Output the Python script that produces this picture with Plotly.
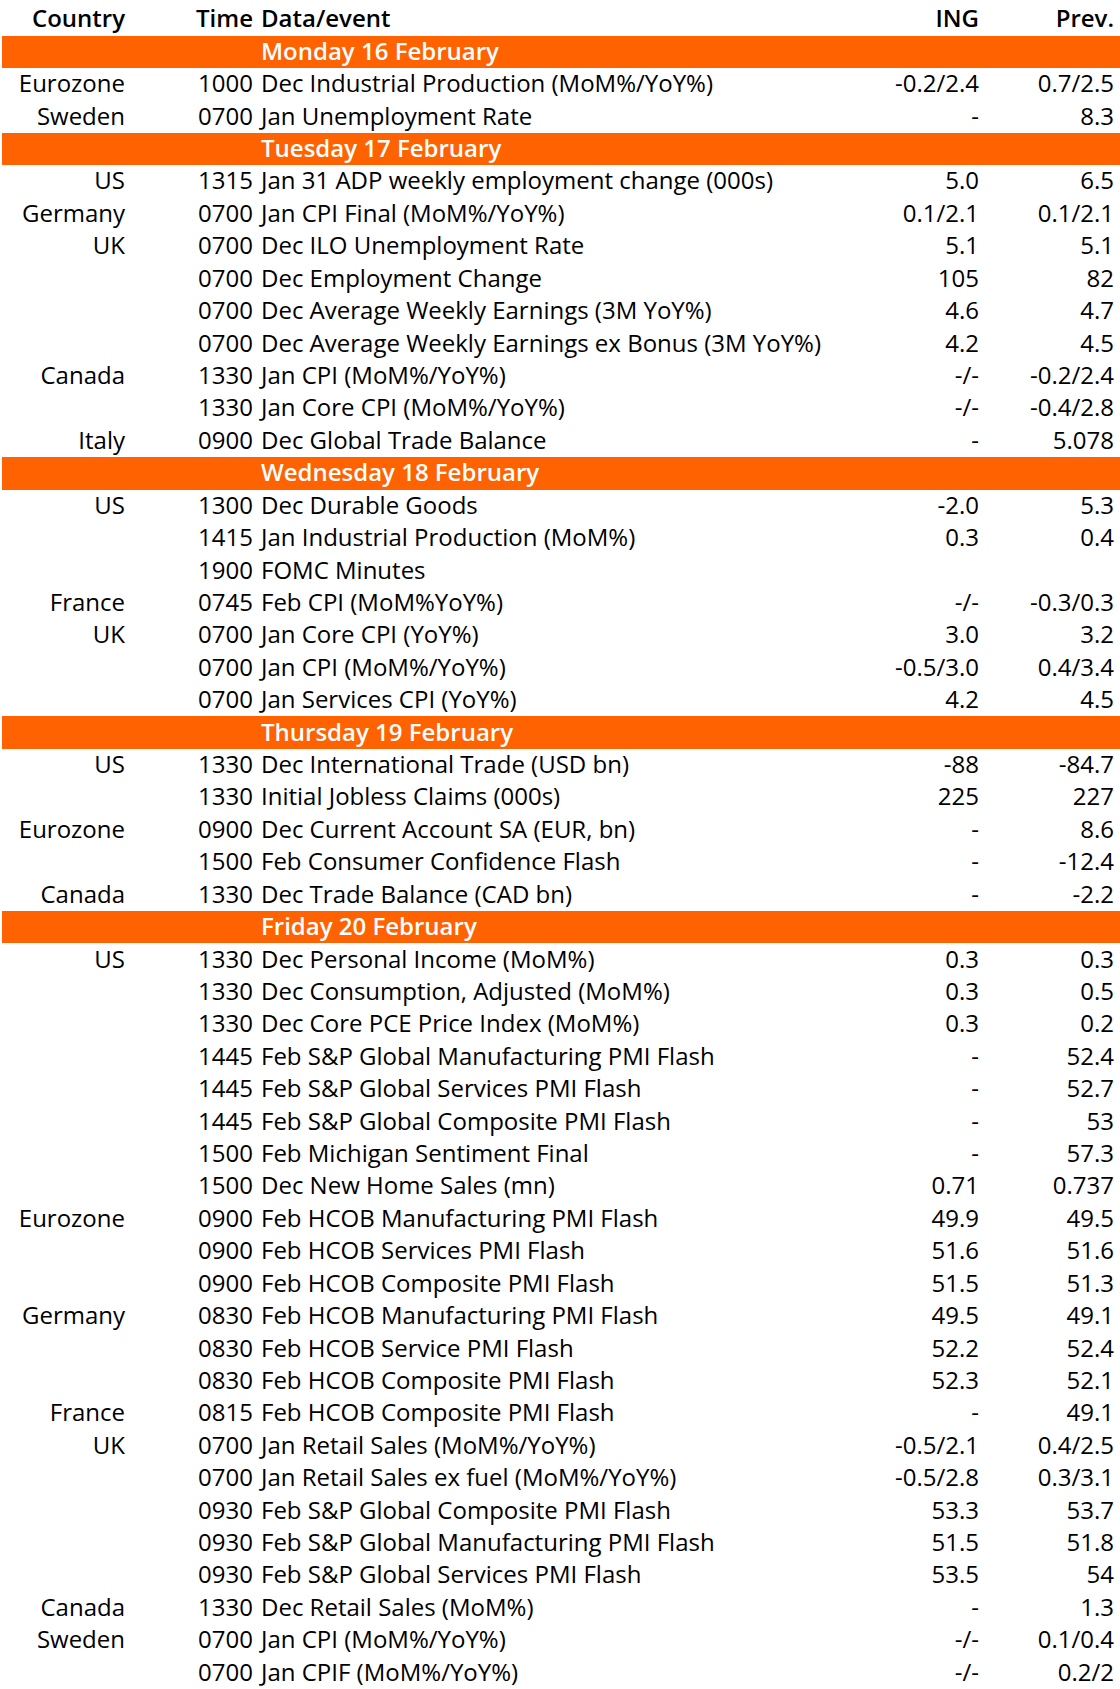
import plotly.graph_objects as go

# week ahead calendar: day rows have no time
country = ["", "Eurozone", "Sweden",
           "", "US", "Germany", "UK", "", "", "", "Canada", "", "Italy",
           "", "US", "", "", "France", "UK", "", "",
           "", "US", "", "Eurozone", "", "Canada",
           "", "US", "", "", "", "", "", "", "", "Eurozone", "", "", "Germany", "", "",
           "France", "UK", "", "", "", "", "Canada", "Sweden", ""]
time = ["", "1000", "0700",
        "", "1315", "0700", "0700", "0700", "0700", "0700", "1330", "1330", "0900",
        "", "1300", "1415", "1900", "0745", "0700", "0700", "0700",
        "", "1330", "1330", "0900", "1500", "1330",
        "", "1330", "1330", "1330", "1445", "1445", "1445", "1500", "1500", "0900", "0900", "0900",
        "0830", "0830", "0830", "0815", "0700", "0700", "0930", "0930", "0930", "1330", "0700", "0700"]
event = ["Monday 16 February",
         "Dec Industrial Production (MoM%/YoY%)",
         "Jan Unemployment Rate",
         "Tuesday 17 February",
         "Jan 31 ADP weekly employment change (000s)",
         "Jan CPI Final (MoM%/YoY%)",
         "Dec ILO Unemployment Rate",
         "Dec Employment Change",
         "Dec Average Weekly Earnings (3M YoY%)",
         "Dec Average Weekly Earnings ex Bonus (3M YoY%)",
         "Jan CPI (MoM%/YoY%)",
         "Jan Core CPI (MoM%/YoY%)",
         "Dec Global Trade Balance",
         "Wednesday 18 February",
         "Dec Durable Goods",
         "Jan Industrial Production (MoM%)",
         "FOMC Minutes",
         "Feb CPI (MoM%YoY%)",
         "Jan Core CPI (YoY%)",
         "Jan CPI (MoM%/YoY%)",
         "Jan Services CPI (YoY%)",
         "Thursday 19 February",
         "Dec International Trade (USD bn)",
         "Initial Jobless Claims (000s)",
         "Dec Current Account SA (EUR, bn)",
         "Feb Consumer Confidence Flash",
         "Dec Trade Balance (CAD bn)",
         "Friday 20 February",
         "Dec Personal Income (MoM%)",
         "Dec Consumption, Adjusted (MoM%)",
         "Dec Core PCE Price Index (MoM%)",
         "Feb S&P Global Manufacturing PMI Flash",
         "Feb S&P Global Services PMI Flash",
         "Feb S&P Global Composite PMI Flash",
         "Feb Michigan Sentiment Final",
         "Dec New Home Sales (mn)",
         "Feb HCOB Manufacturing PMI Flash",
         "Feb HCOB Services PMI Flash",
         "Feb HCOB Composite PMI Flash",
         "Feb HCOB Manufacturing PMI Flash",
         "Feb HCOB Service PMI Flash",
         "Feb HCOB Composite PMI Flash",
         "Feb HCOB Composite PMI Flash",
         "Jan Retail Sales (MoM%/YoY%)",
         "Jan Retail Sales ex fuel (MoM%/YoY%)",
         "Feb S&P Global Composite PMI Flash",
         "Feb S&P Global Manufacturing PMI Flash",
         "Feb S&P Global Services PMI Flash",
         "Dec Retail Sales (MoM%)",
         "Jan CPI (MoM%/YoY%)",
         "Jan CPIF (MoM%/YoY%)"]
ing = ["", "-0.2/2.4", "-",
       "", "5.0", "0.1/2.1", "5.1", "105", "4.6", "4.2", "-/-", "-/-", "-",
       "", "-2.0", "0.3", "", "-/-", "3.0", "-0.5/3.0", "4.2",
       "", "-88", "225", "-", "-", "-",
       "", "0.3", "0.3", "0.3", "-", "-", "-", "-", "0.71", "49.9", "51.6", "51.5",
       "49.5", "52.2", "52.3", "-", "-0.5/2.1", "-0.5/2.8", "53.3", "51.5", "53.5", "-", "-/-", "-/-"]
prev = ["", "0.7/2.5", "8.3",
        "", "6.5", "0.1/2.1", "5.1", "82", "4.7", "4.5", "-0.2/2.4", "-0.4/2.8", "5.078",
        "", "5.3", "0.4", "", "-0.3/0.3", "3.2", "0.4/3.4", "4.5",
        "", "-84.7", "227", "8.6", "-12.4", "-2.2",
        "", "0.3", "0.5", "0.2", "52.4", "52.7", "53", "57.3", "0.737", "49.5", "51.6", "51.3",
        "49.1", "52.4", "52.1", "49.1", "0.4/2.5", "0.3/3.1", "53.7", "51.8", "54", "1.3", "0.1/0.4", "0.2/2"]
headers = ["Country", "Time", "Data/event", "ING", "Prev."]

ORANGE = "#FF6200"
FONT = "Open Sans"
FS = 24
W = 1120
DY = 0.06  # nudge text a bit lower inside its row
# column anchors (x in px), text side
cols = [(125, "middle left"), (253, "middle left"), (261, "middle right"),
        (979, "middle left"), (1114, "middle left")]

rows = list(range(1, len(event) + 1))  # row 0 is the header
is_day = [t == "" and e.split(" ")[0].endswith("day") for t, e in zip(time, event)]
day_rows = [r for r, d in zip(rows, is_day) if d]
day_text = [e for e, d in zip(event, is_day) if d]

fig = go.Figure()

# orange day bands
fig.add_trace(go.Bar(y=day_rows, x=[W] * len(day_rows), base=2, orientation="h",
                     width=1, marker=dict(color=ORANGE, line_width=0),
                     hoverinfo="skip", showlegend=False))

# header
for (xpos, pos), h in zip(cols, headers):
    fig.add_trace(go.Scatter(x=[xpos], y=[DY], mode="text", text=[h], textposition=pos,
                             textfont=dict(family=FONT, size=FS, color="black", weight=600),
                             hoverinfo="skip", showlegend=False))

# body columns (day rows left empty here)
for (xpos, pos), vals in zip(cols, [country, time, event, ing, prev]):
    txt = ["" if d else v for v, d in zip(vals, is_day)]
    fig.add_trace(go.Scatter(x=[xpos] * len(rows), y=[r + DY for r in rows], mode="text",
                             text=txt, textposition=pos,
                             textfont=dict(family=FONT, size=FS, color="black"),
                             hoverinfo="skip", showlegend=False))

# day labels
fig.add_trace(go.Scatter(x=[cols[2][0]] * len(day_rows), y=[r + DY for r in day_rows],
                         mode="text", text=day_text, textposition="middle right",
                         textfont=dict(family=FONT, size=FS, color="white", weight=600),
                         hoverinfo="skip", showlegend=False))

fig.update_layout(width=W, height=1689, margin=dict(l=0, r=0, t=0, b=0),
                  paper_bgcolor="white", plot_bgcolor="white", bargap=0,
                  xaxis=dict(range=[0, W], visible=False, fixedrange=True),
                  yaxis=dict(range=[len(event) + 0.5, -0.6], visible=False, fixedrange=True))
fig.write_html("out.html", config={"displayModeBar": False},
               post_script="document.body.style.margin='0';")
